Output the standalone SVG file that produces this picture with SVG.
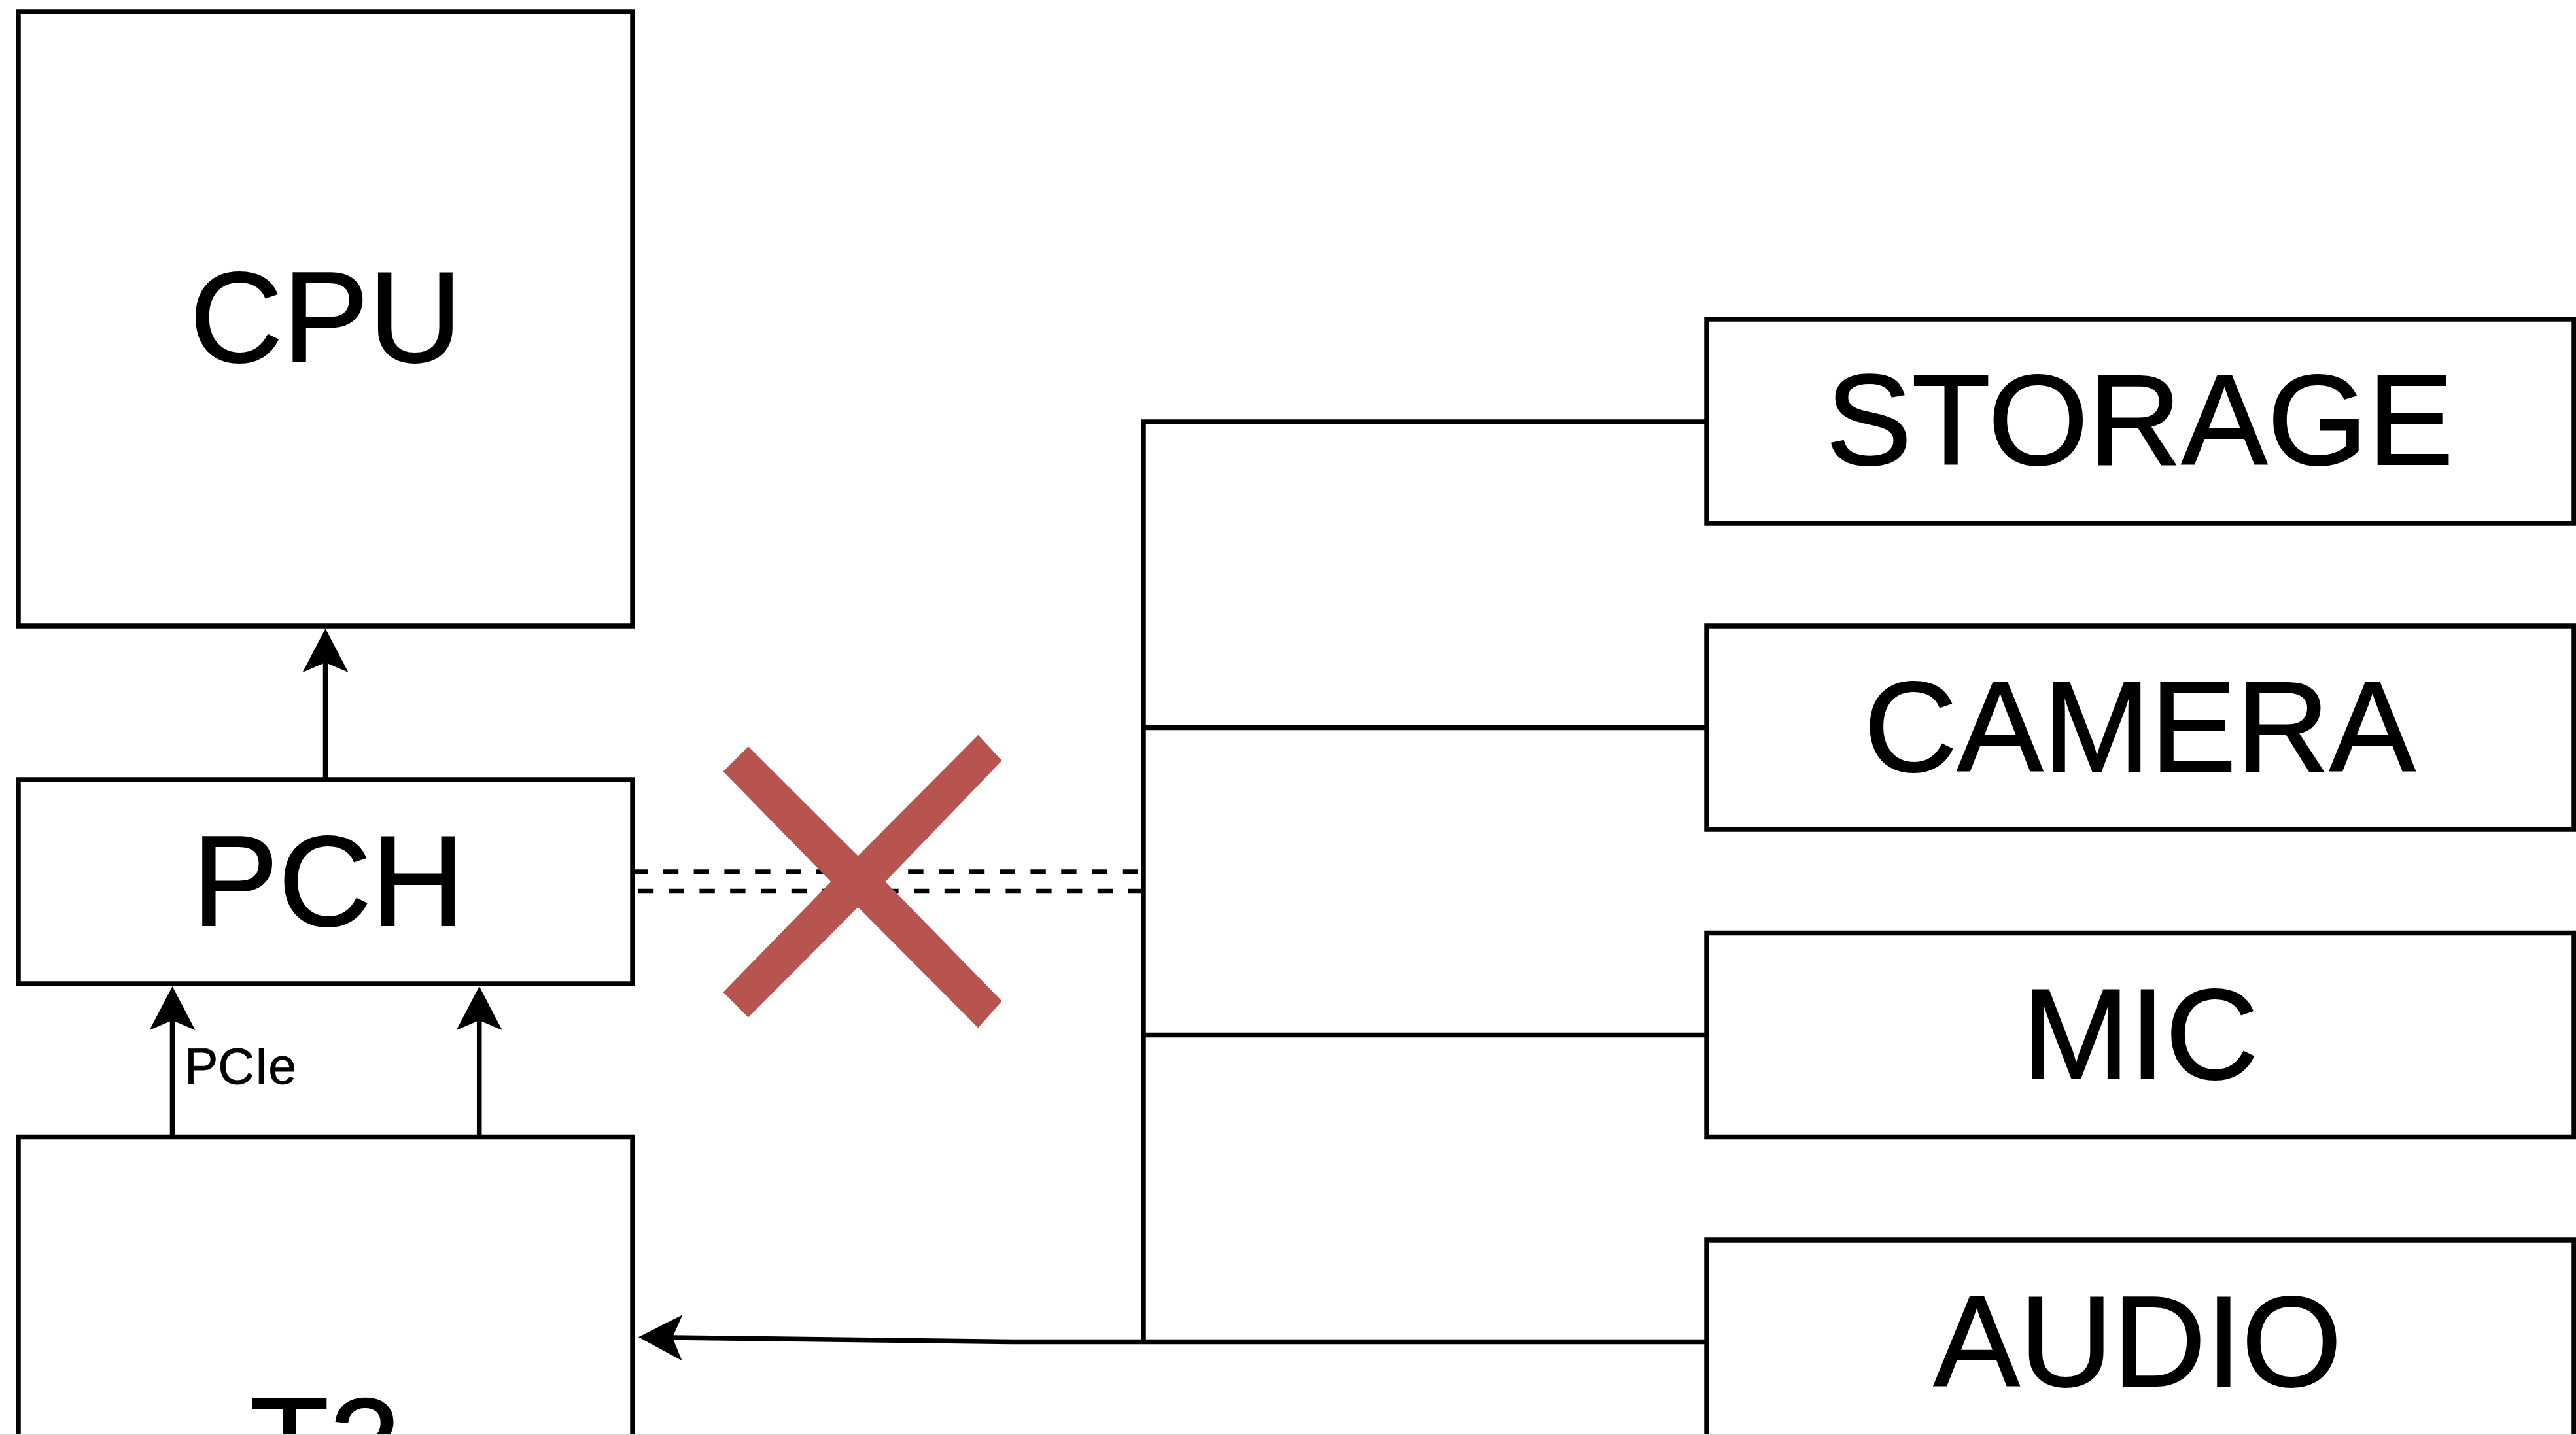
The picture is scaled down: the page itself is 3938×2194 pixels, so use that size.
<svg xmlns="http://www.w3.org/2000/svg" width="3938" height="2194" viewBox="0 0 3938 2194">
  <style>
    .box { fill: #ffffff; stroke: #000000; stroke-width: 7.5; }
    .lbl { font-family: "Liberation Sans", Arial, Helvetica, sans-serif; font-size: 197px; fill: #000000; stroke: #000000; stroke-width: 2; text-anchor: middle; }
    .small { font-family: "Liberation Sans", Arial, Helvetica, sans-serif; font-size: 77px; fill: #000000; stroke: #000000; stroke-width: 0.8; }
    .wire { fill: none; stroke: #000000; stroke-width: 7.5; }
    .dash { fill: none; stroke: #000000; stroke-width: 7.5; stroke-dasharray: 23.4 23.4; }
  </style>
  <defs>
    <marker id="arrow" markerUnits="userSpaceOnUse" viewBox="-20 -40 80 80" markerWidth="80" markerHeight="80" refX="0" refY="0" orient="auto" overflow="visible">
      <path d="M52,0 L-15,-35 L0,0 L-15,35 Z" fill="#000000" stroke="none"/>
    </marker>
  </defs>
  <rect x="0" y="0" width="3938" height="2194" fill="#ffffff"/>

  <g id="connectors">
    <path class="wire" d="M497.5,1192 V1013" marker-end="url(#arrow)"/>
    <path class="wire" d="M263.5,1738 V1560" marker-end="url(#arrow)"/>
    <path class="wire" d="M732.7,1738 V1560" marker-end="url(#arrow)"/>
    <path class="wire" d="M2609,645 H1748 V2051.5"/>
    <path class="wire" d="M2609,1112.5 H1748"/>
    <path class="wire" d="M2609,1582.5 H1748"/>
    <path class="wire" d="M2609,2051.5 H1548 L1028,2045" marker-end="url(#arrow)"/>
    <path class="dash" d="M967,1333 H1748"/>
    <path class="dash" d="M1748,1362.5 H967"/>
    <text class="small" x="282" y="1657">PCIe</text>
  </g>

  <g id="cpu">
    <rect class="box" x="28" y="18" width="939" height="939"/>
    <text class="lbl" x="498" y="553">CPU</text>
  </g>
  <g id="pch">
    <rect class="box" x="28" y="1192" width="939" height="312"/>
    <text class="lbl" x="502" y="1415">PCH</text>
  </g>
  <g id="t2">
    <rect class="box" x="28" y="1738.5" width="939" height="600"/>
    <text class="lbl" x="497.5" y="2275">T2</text>
  </g>
  <g id="storage">
    <rect class="box" x="2609" y="488" width="1326" height="312"/>
    <text class="lbl" x="3271" y="710">STORAGE</text>
  </g>
  <g id="camera">
    <rect class="box" x="2609" y="957" width="1326" height="311"/>
    <text class="lbl" x="3271" y="1179">CAMERA</text>
  </g>
  <g id="mic">
    <rect class="box" x="2609" y="1426.5" width="1326" height="312"/>
    <text class="lbl" x="3272" y="1649">MIC</text>
  </g>
  <g id="audio">
    <rect class="box" x="2609" y="1896" width="1326" height="400"/>
    <text class="lbl" x="3268" y="2119">AUDIO</text>
  </g>

  <g id="red-x">
    <polygon fill="#b85450" points="1144,1141.3 1311.6,1308.6 1495.3,1123.7 1531.5,1163.1 1353.5,1348 1531.5,1530.5 1495.3,1571.5 1311.6,1387 1144,1555.4 1105.5,1517.1 1270.3,1348 1105.5,1179.6"/>
  </g>

  <rect x="0" y="2192" width="3938" height="2" fill="#d6d6d6"/>
</svg>
